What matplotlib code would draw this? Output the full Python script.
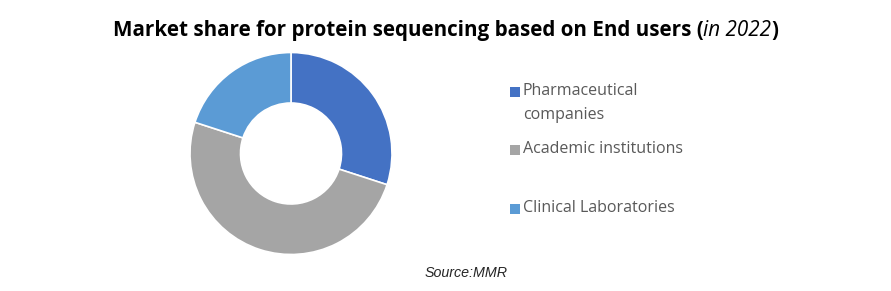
import matplotlib.pyplot as plt
from matplotlib.patches import Rectangle

etiquetas = ["Pharmaceutical\ncompanies", "Academic institutions", "Clinical Laboratories"]
valores = [30, 50, 20]
colores = ["#4472C4", "#A5A5A5", "#5B9BD5"]

# posiciones de la leyenda (linea base de la primera linea, en px desde arriba)
base_leyenda = [95, 153, 212]

W, H = 891, 291


def grafico() -> None:
    fig = plt.figure(figsize=(W / 100, H / 100), dpi=100)

    # donut: centro (291, 153.5) px, radio ~101 px
    cx, cy, r = 291, 153.5, 101
    ax = fig.add_axes([(cx - r) / W, 1 - (cy + r) / H, 2 * r / W, 2 * r / H])
    ax.pie(valores, colors=colores, startangle=90, counterclock=False,
           wedgeprops=dict(width=0.5, edgecolor="white", linewidth=1.2))
    ax.set_xlim(-1, 1)
    ax.set_ylim(-1, 1)
    ax.set_aspect("equal")

    # titulo en tres partes (negrita, cursiva, negrita)
    y_tit = 1 - 36 / H
    tam = 14.9
    partes = [("Market share for protein sequencing based on End users (", "normal", "bold"),
              ("in 2022", "italic", "normal"),
              (")", "normal", "bold")]
    textos = []
    for texto, estilo, peso in partes:
        textos.append(fig.text(0, y_tit, texto, ha="left", va="baseline", fontsize=tam,
                               style=estilo, fontweight=peso, family="Open Sans"))
    fig.canvas.draw()
    anchos = [t.get_window_extent().width for t in textos]
    x = (W - sum(anchos)) / 2
    for t, a in zip(textos, anchos):
        t.set_x(x / W)
        x += a

    # leyenda
    for etiqueta, color, yb in zip(etiquetas, colores, base_leyenda):
        fig.patches.append(Rectangle((510 / W, 1 - (yb + 2) / H), 10 / W, 10 / H,
                                     transform=fig.transFigure, facecolor=color,
                                     edgecolor="none"))
        for k, linea in enumerate(etiqueta.split("\n")):
            fig.text(523 / W, 1 - (yb + 24 * k) / H, linea, ha="left", va="baseline",
                     fontsize=11.5, color="#595959", family="Open Sans")

    fig.text(466 / W, 1 - 277 / H, "Source:MMR", ha="center", va="baseline",
             fontsize=10.3, style="italic", family="Liberation Sans", color="#262626")

    fig.savefig("out.png", dpi=100)


if __name__ == "__main__":
    grafico()
